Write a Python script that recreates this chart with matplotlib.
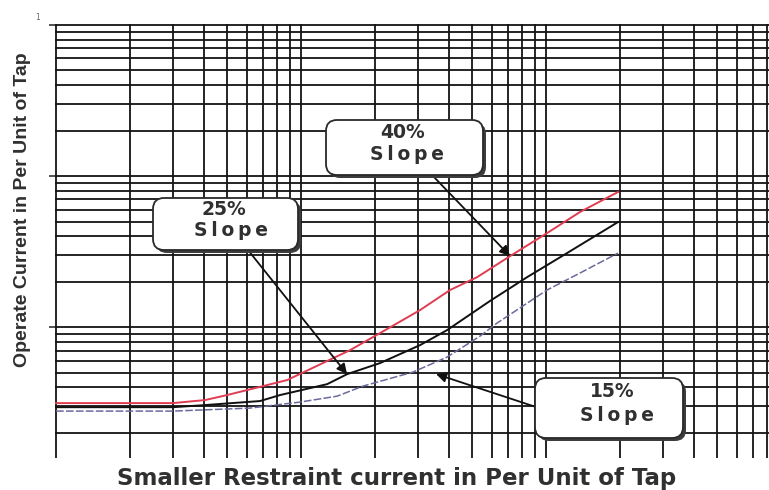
import matplotlib

matplotlib.use("Agg")
import matplotlib.pyplot as plt
from matplotlib import font_manager
from matplotlib.font_manager import FontProperties
from matplotlib.patches import FancyBboxPatch
from matplotlib.ticker import FixedLocator, NullFormatter

# values (log-log, per unit of tap)
slope40_x = [0.100, 0.300, 0.406, 0.499, 0.602, 0.700, 0.877, 1.585, 2.101, 3.060,
             4.057, 5.228, 7.131, 10.09, 13.76, 19.67]
slope40_y = [0.00314, 0.00314, 0.00329, 0.00355, 0.00383, 0.00407, 0.00446, 0.00704,
             0.00913, 0.01296, 0.0176, 0.0214, 0.0295, 0.0419, 0.0578, 0.0784]

slope25_x = [0.100, 0.300, 0.398, 0.680, 0.821, 1.277, 1.541, 2.101, 3.060, 3.944,
             5.907, 8.364, 12.18, 19.67]
slope25_y = [0.00295, 0.00295, 0.00304, 0.00324, 0.00355, 0.00419, 0.00488, 0.00578,
             0.00760, 0.00955, 0.0149, 0.0214, 0.0309, 0.0496]

slope15_x = [0.100, 0.300, 0.619, 0.991, 1.403, 1.791, 2.865, 3.944, 5.379, 6.310,
             10.09, 13.76, 19.67]
slope15_y = [0.00278, 0.00278, 0.00291, 0.00319, 0.00349, 0.00407, 0.00504, 0.00633,
             0.00872, 0.01063, 0.0176, 0.0228, 0.0309]

x_major = [0.1, 1, 10]
y_major = [0.01, 0.1, 1]
top_label = "1"

W, H = 769, 490
TEXT = "#303030"
SLOPE = "S\u2009l\u2009o\u2009p\u2009e"


def _has_font(name):
    try:
        font_manager.findfont(FontProperties(family=name), fallback_to_default=False)
        return True
    except ValueError:
        return False


def _minor(majors, lo, hi):
    out = []
    for m in [majors[0] / 10] + majors:
        for k in range(2, 10):
            v = m * k
            if lo < v < hi:
                out.append(v)
    return out


def _callout(ov, x, y, w, h, top, bottom, dx_top=0, dx_bottom=0):
    shadow = FancyBboxPatch((x + 3, y + 3), w, h,
                            boxstyle="round,pad=0,rounding_size=11",
                            facecolor="#3c3c3c", edgecolor="none", zorder=6)
    box = FancyBboxPatch((x, y), w, h,
                         boxstyle="round,pad=0,rounding_size=11",
                         facecolor="white", edgecolor="#2a2a2a", linewidth=1.3, zorder=7)
    ov.add_patch(shadow)
    ov.add_patch(box)
    kw = dict(ha="center", va="center", fontsize=13.5, fontweight="bold",
              color=TEXT, family="DejaVu Sans", zorder=8)
    ov.text(x + w / 2 + dx_top, y + h * 0.22, top, **kw)
    ov.text(x + w / 2 + dx_bottom, y + h * 0.63, bottom, **kw)


def main():
    fig = plt.figure(figsize=(W / 100, H / 100), dpi=100)
    ax = fig.add_axes([55 / W, (H - 458) / H, (W - 55) / W, (458 - 24) / H])
    ax.set_xscale("log")
    ax.set_yscale("log")
    x_lo, x_hi = 0.099, 81.3
    y_lo, y_hi = 0.00136, 1.015
    ax.set_xlim(x_lo, x_hi)
    ax.set_ylim(y_lo, y_hi)

    ax.xaxis.set_major_locator(FixedLocator(x_major))
    ax.xaxis.set_minor_locator(FixedLocator(_minor(x_major, x_lo, x_hi)))
    ax.yaxis.set_major_locator(FixedLocator(y_major))
    ax.yaxis.set_minor_locator(FixedLocator(_minor(y_major, y_lo, y_hi)))
    for axis in (ax.xaxis, ax.yaxis):
        axis.set_major_formatter(NullFormatter())
        axis.set_minor_formatter(NullFormatter())

    ax.set_axisbelow(True)
    ax.grid(which="both", color="#141414", linewidth=1.3)
    ax.tick_params(axis="x", which="both", length=0)
    ax.tick_params(axis="y", which="minor", length=0)
    ax.tick_params(axis="y", which="major", length=4, width=1.2, color="#333333")
    for s in ax.spines.values():
        s.set_visible(False)

    ax.plot(slope40_x, slope40_y, color="#e03c52", linewidth=1.4, zorder=3)
    ax.plot(slope25_x, slope25_y, color="#111111", linewidth=1.4, zorder=3)
    ax.plot(slope15_x, slope15_y, color="#6a6a9c", linewidth=1.1,
            dashes=(5, 1.5), zorder=3)

    # overlay in pixel units for the callouts and axis titles
    ov = fig.add_axes([0, 0, 1, 1], zorder=5)
    ov.set_xlim(0, W)
    ov.set_ylim(H, 0)
    ov.axis("off")

    arrow = dict(arrowstyle="-|>", color="#111111", lw=1.3, mutation_scale=15,
                 shrinkA=0, shrinkB=0)
    ov.annotate("", xy=(slope40_x[12], slope40_y[12]), xycoords=ax.transData,
                xytext=(433, 176), textcoords="data", arrowprops=arrow, zorder=5)
    ov.annotate("", xy=(slope25_x[6], slope25_y[6]), xycoords=ax.transData,
                xytext=(248, 250), textcoords="data", arrowprops=arrow, zorder=5)
    ov.annotate("", xy=(436, 374), xytext=(536, 407), arrowprops=arrow, zorder=5)

    _callout(ov, 326, 120, 157, 55, "40%", SLOPE, dx_top=-2, dx_bottom=3)
    _callout(ov, 153, 198, 145, 52, "25%", SLOPE, dx_top=-2, dx_bottom=6)
    _callout(ov, 535, 378, 148, 60, "15%", SLOPE, dx_top=3, dx_bottom=8)

    ov.text(38, 18, top_label, ha="center", va="center", fontsize=5.5, color="#666666")

    ov.text(397, 478, "Smaller Restraint current in Per Unit of Tap", ha="center",
            va="center", fontsize=16.5, fontweight="bold", color=TEXT, family="DejaVu Sans")
    if _has_font("Liberation Sans Narrow"):
        yfam, ysize = ["Liberation Sans Narrow", "DejaVu Sans"], 16.5
    else:
        yfam, ysize = ["Liberation Sans", "DejaVu Sans"], 14
    ov.text(23, 210, "Operate Current in Per Unit of Tap", rotation=90, ha="center",
            va="center", fontsize=ysize, fontweight="bold", color=TEXT, family=yfam)

    fig.savefig("out.png", dpi=100)
    plt.close(fig)


if __name__ == "__main__":
    main()
